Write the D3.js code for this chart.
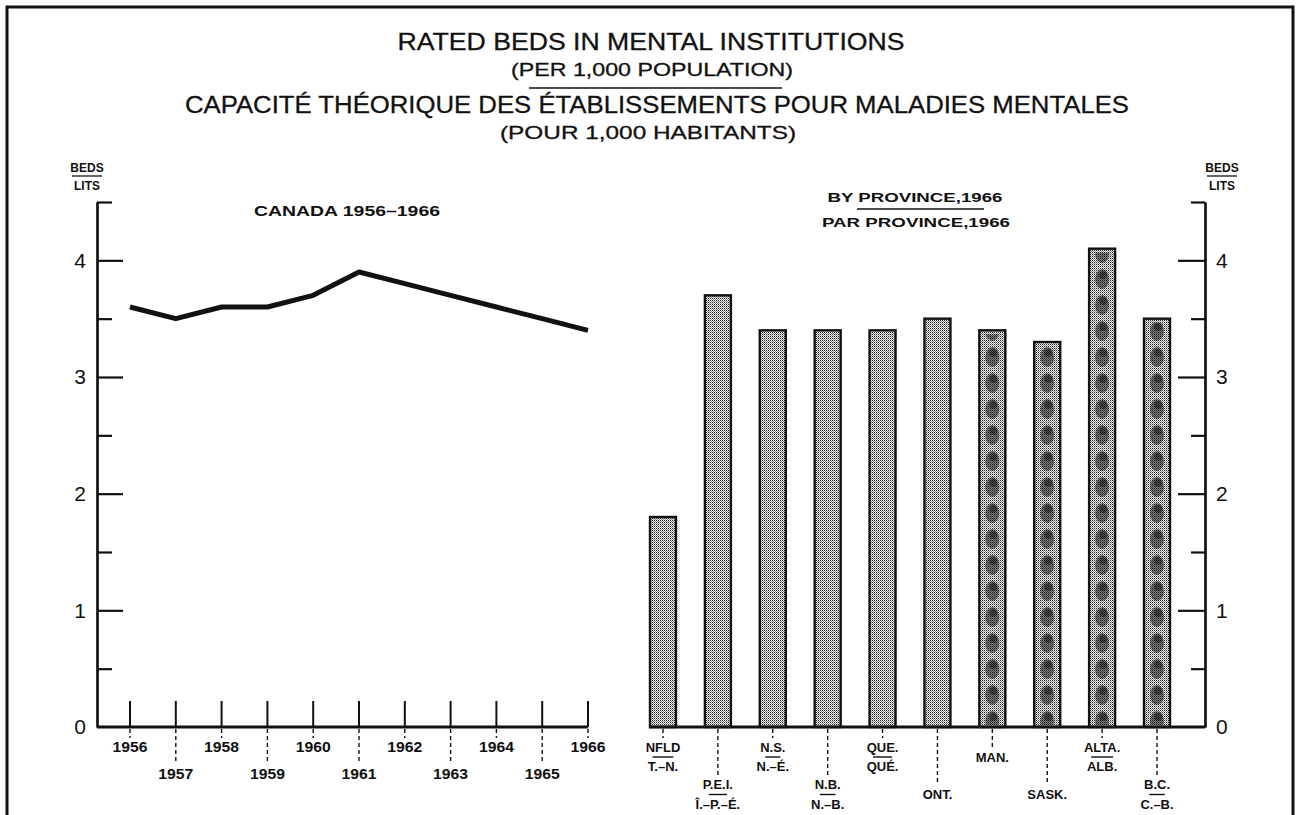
<!DOCTYPE html>
<html>
<head>
<meta charset="utf-8">
<script src="https://cdn.jsdelivr.net/npm/d3@7"></script>
<style>
  body { margin: 0; background: #fff; }
  svg { display: block; }
  text { font-family: "Liberation Sans", "DejaVu Sans", sans-serif; fill: #111; }
</style>
</head>
<body>
<div id="chart"></div>
<script>
// data
var years = [1956, 1957, 1958, 1959, 1960, 1961, 1962, 1963, 1964, 1965, 1966];
var canadaBeds = [3.6, 3.5, 3.6, 3.6, 3.7, 3.9, 3.8, 3.7, 3.6, 3.5, 3.4];

var provEn = ["NFLD", "P.E.I.", "N.S.", "N.B.", "QUE.", "ONT.", "MAN.", "SASK.", "ALTA.", "B.C."];
var provFr = ["T.–N.", "Î.–P.–É.", "N.–É.", "N.–B.", "QUÉ.", "", "", "", "ALB.", "C.–B."];
var provBeds = [1.8, 3.7, 3.4, 3.4, 3.4, 3.5, 3.4, 3.3, 4.1, 3.5];

var majorTicks = [0, 1, 2, 3, 4];
var minorTicks = [0.5, 1.5, 2.5, 3.5, 4.5];

var W = 1300, H = 815;
var base = 727, yTop = 202;

var svg = d3.select('#chart').append('svg')
    .attr('width', W).attr('height', H);

// scales
var x = d3.scaleLinear().domain([1956, 1966]).range([130, 588]);
var y = d3.scaleLinear().domain([0, 4.5]).range([base, yTop]);
var xb = d3.scalePoint().domain(provEn).range([663, 1157]);

var axisX = 97, axisXR = 1205;
var barW = 26;

// patterns for the stippled bars
var defs = svg.append('defs');
var stip = defs.append('pattern').attr('id', 'stip')
    .attr('width', 2).attr('height', 2).attr('patternUnits', 'userSpaceOnUse');
stip.append('rect').attr('width', 2).attr('height', 2).attr('fill', '#f2f2f2');
stip.append('rect').attr('width', 1).attr('height', 1).attr('fill', '#222');
stip.append('rect').attr('x', 1).attr('y', 1).attr('width', 1).attr('height', 1).attr('fill', '#8a8a8a');

// darker blotches for the western provinces, one pattern per bar so they sit centred
provEn.forEach(function(name, i) {
  var p = defs.append('pattern').attr('id', 'blot' + i)
      .attr('width', barW).attr('height', 26).attr('patternUnits', 'userSpaceOnUse')
      .attr('x', xb(name) - barW / 2).attr('y', 6);
  p.append('ellipse').attr('cx', barW / 2).attr('cy', 13).attr('rx', 7).attr('ry', 10)
      .attr('fill', '#1a1a1a').attr('opacity', 0.55);
  p.append('ellipse').attr('cx', barW / 2 + 1).attr('cy', 9).attr('rx', 4).attr('ry', 4)
      .attr('fill', '#111').attr('opacity', 0.5);
});

// frame
svg.append('path')
    .attr('d', 'M7,' + H + 'V7H1293V' + H)
    .attr('fill', 'none').attr('stroke', '#111').attr('stroke-width', 3);

// titles
function title(txt, x, y, size, len) {
  svg.append('text').attr('x', x).attr('y', y)
      .attr('text-anchor', 'middle')
      .attr('font-size', size)
      .attr('stroke', '#111').attr('stroke-width', 0.3)
      .attr('textLength', len).attr('lengthAdjust', 'spacingAndGlyphs')
      .text(txt);
}
title('RATED BEDS IN MENTAL INSTITUTIONS', 651, 50, 23, 507);
title('(PER  1,000 POPULATION)', 652, 76, 19, 282);
svg.append('line').attr('x1', 529).attr('x2', 782).attr('y1', 88).attr('y2', 88)
    .attr('stroke', '#111').attr('stroke-width', 1.5);
title('CAPACITÉ THÉORIQUE DES ÉTABLISSEMENTS POUR MALADIES MENTALES', 657, 113, 23, 944);
title('(POUR 1,000 HABITANTS)', 648, 139, 19, 296);

// unit labels
function unit(cx) {
  var g = svg.append('g').attr('font-size', 12).attr('font-weight', 'bold');
  g.append('text').attr('x', cx).attr('y', 172).attr('text-anchor', 'middle').text('BEDS');
  g.append('text').attr('x', cx).attr('y', 190).attr('text-anchor', 'middle').text('LITS');
  g.append('line').attr('x1', cx - 15).attr('x2', cx + 15).attr('y1', 176).attr('y2', 176)
      .attr('stroke', '#111').attr('stroke-width', 1.3);
}
unit(87);
unit(1222);

// left axis
var leftAx = svg.append('g').attr('transform', 'translate(' + axisX + ',0)');
leftAx.call(d3.axisLeft(y).tickValues(majorTicks).tickSize(-26).tickSizeOuter(0).tickPadding(11).tickFormat(d3.format('d')));
leftAx.call(function(g) {
  g.selectAll('.tick').filter(function(d) { return d === 0; }).select('line').remove();
});
var leftMinor = svg.append('g').attr('transform', 'translate(' + axisX + ',0)');
leftMinor.call(d3.axisLeft(y).tickValues(minorTicks).tickSize(-15).tickSizeOuter(0).tickFormat(''));

// right axis
var rightAx = svg.append('g').attr('transform', 'translate(' + axisXR + ',0)');
rightAx.call(d3.axisRight(y).tickValues(majorTicks).tickSize(-27).tickSizeOuter(0).tickPadding(11).tickFormat(d3.format('d')));
rightAx.call(function(g) {
  g.selectAll('.tick').filter(function(d) { return d === 0; }).select('line').remove();
});
var rightMinor = svg.append('g').attr('transform', 'translate(' + axisXR + ',0)');
rightMinor.call(d3.axisRight(y).tickValues(minorTicks).tickSize(-14).tickSizeOuter(0).tickFormat(''));

svg.selectAll('.domain, .tick line').attr('stroke', '#111').attr('stroke-width', 2.2);
svg.selectAll('.tick text').attr('font-size', 21).attr('fill', '#111')
    .attr('font-family', '"DejaVu Sans", sans-serif');

// ---- line chart ----
svg.append('text').attr('x', 347).attr('y', 216).attr('text-anchor', 'middle')
    .attr('font-size', 15).attr('font-weight', 'bold')
    .attr('textLength', 186).attr('lengthAdjust', 'spacingAndGlyphs')
    .text('CANADA 1956–1966');

// year ticks, up from the baseline, dashed leaders below
var yr = svg.append('g');
yr.selectAll('line.up').data(years).enter().append('line')
    .attr('x1', function(d) { return x(d); }).attr('x2', function(d) { return x(d); })
    .attr('y1', base).attr('y2', base - 26)
    .attr('stroke', '#111').attr('stroke-width', 2);
yr.selectAll('line.dn').data(years).enter().append('line')
    .attr('x1', function(d) { return x(d); }).attr('x2', function(d) { return x(d); })
    .attr('y1', base + 2).attr('y2', function(d, i) { return i % 2 ? 764 : 738; })
    .attr('stroke', '#111').attr('stroke-width', 1.4).attr('stroke-dasharray', '4,3');
yr.selectAll('text').data(years).enter().append('text')
    .attr('x', function(d) { return x(d); })
    .attr('y', function(d, i) { return i % 2 ? 779 : 752; })
    .attr('text-anchor', 'middle')
    .attr('font-size', 14).attr('font-weight', 'bold')
    .attr('textLength', 35).attr('lengthAdjust', 'spacingAndGlyphs')
    .text(function(d) { return d; });

svg.append('line').attr('x1', axisX).attr('x2', x(1966)).attr('y1', base).attr('y2', base)
    .attr('stroke', '#111').attr('stroke-width', 3.2);

var line = d3.line()
    .x(function(d, i) { return x(years[i]); })
    .y(function(d) { return y(d); });
svg.append('path').datum(canadaBeds)
    .attr('d', line)
    .attr('fill', 'none').attr('stroke', '#111')
    .attr('stroke-width', 5).attr('stroke-linejoin', 'round');

// ---- bar chart ----
var bt = svg.append('g').attr('font-size', 13).attr('font-weight', 'bold').attr('text-anchor', 'middle');
bt.append('text').attr('x', 915).attr('y', 202).text('BY PROVINCE,1966')
    .attr('textLength', 175).attr('lengthAdjust', 'spacingAndGlyphs');
bt.append('text').attr('x', 916).attr('y', 227).text('PAR PROVINCE,1966')
    .attr('textLength', 188).attr('lengthAdjust', 'spacingAndGlyphs');
svg.append('line').attr('x1', 857).attr('x2', 984).attr('y1', 209).attr('y2', 209)
    .attr('stroke', '#111').attr('stroke-width', 1.4);

var bars = svg.append('g');
bars.selectAll('rect.bar').data(provBeds).enter().append('rect')
    .attr('class', 'bar')
    .attr('x', function(d, i) { return xb(provEn[i]) - barW / 2; })
    .attr('y', function(d) { return y(d); })
    .attr('width', barW)
    .attr('height', function(d) { return base - y(d); })
    .attr('fill', 'url(#stip)');
bars.selectAll('rect.blot').data(provBeds).enter().append('rect')
    .filter(function(d, i) { return i >= 6; })
    .attr('x', function(d, i) { return xb(provEn[i + 6]) - barW / 2 + 2; })
    .attr('y', function(d) { return y(d) + 4; })
    .attr('width', barW - 4)
    .attr('height', function(d) { return base - y(d) - 6; })
    .attr('fill', function(d, i) { return 'url(#blot' + (i + 6) + ')'; });
bars.selectAll('rect.edge').data(provBeds).enter().append('rect')
    .attr('x', function(d, i) { return xb(provEn[i]) - barW / 2; })
    .attr('y', function(d) { return y(d); })
    .attr('width', barW)
    .attr('height', function(d) { return base - y(d); })
    .attr('fill', 'none').attr('stroke', '#111').attr('stroke-width', 2.4);

svg.append('line').attr('x1', xb(provEn[0]) - barW / 2 - 1).attr('x2', axisXR).attr('y1', base).attr('y2', base)
    .attr('stroke', '#111').attr('stroke-width', 3.2);

// province labels
var pl = svg.append('g').attr('font-size', 13).attr('font-weight', 'bold').attr('text-anchor', 'middle');
provEn.forEach(function(name, i) {
  var cx = xb(name);
  var low = i % 2 === 1;
  var single = provFr[i] === '';
  var c1 = low ? 784 : 747, c2 = low ? 804 : 766;
  var mid = (c1 + c2) / 2;
  var topText = single ? mid : c1;
  svg.append('line').attr('x1', cx).attr('x2', cx)
      .attr('y1', base + 2).attr('y2', topText - 9)
      .attr('stroke', '#111').attr('stroke-width', 1.4).attr('stroke-dasharray', '4,3');
  if (single) {
    pl.append('text').attr('x', cx).attr('y', mid + 5).text(name);
  } else {
    var t = pl.append('text').attr('x', cx).attr('y', c1 + 5).text(name);
    pl.append('text').attr('x', cx).attr('y', c2 + 5).text(provFr[i]);
    var len = t.node().getComputedTextLength() * 0.6;
    pl.append('line').attr('x1', cx - len / 2).attr('x2', cx + len / 2)
        .attr('y1', mid + 0.5).attr('y2', mid + 0.5)
        .attr('stroke', '#111').attr('stroke-width', 1.4);
  }
});
</script>
</body>
</html>
